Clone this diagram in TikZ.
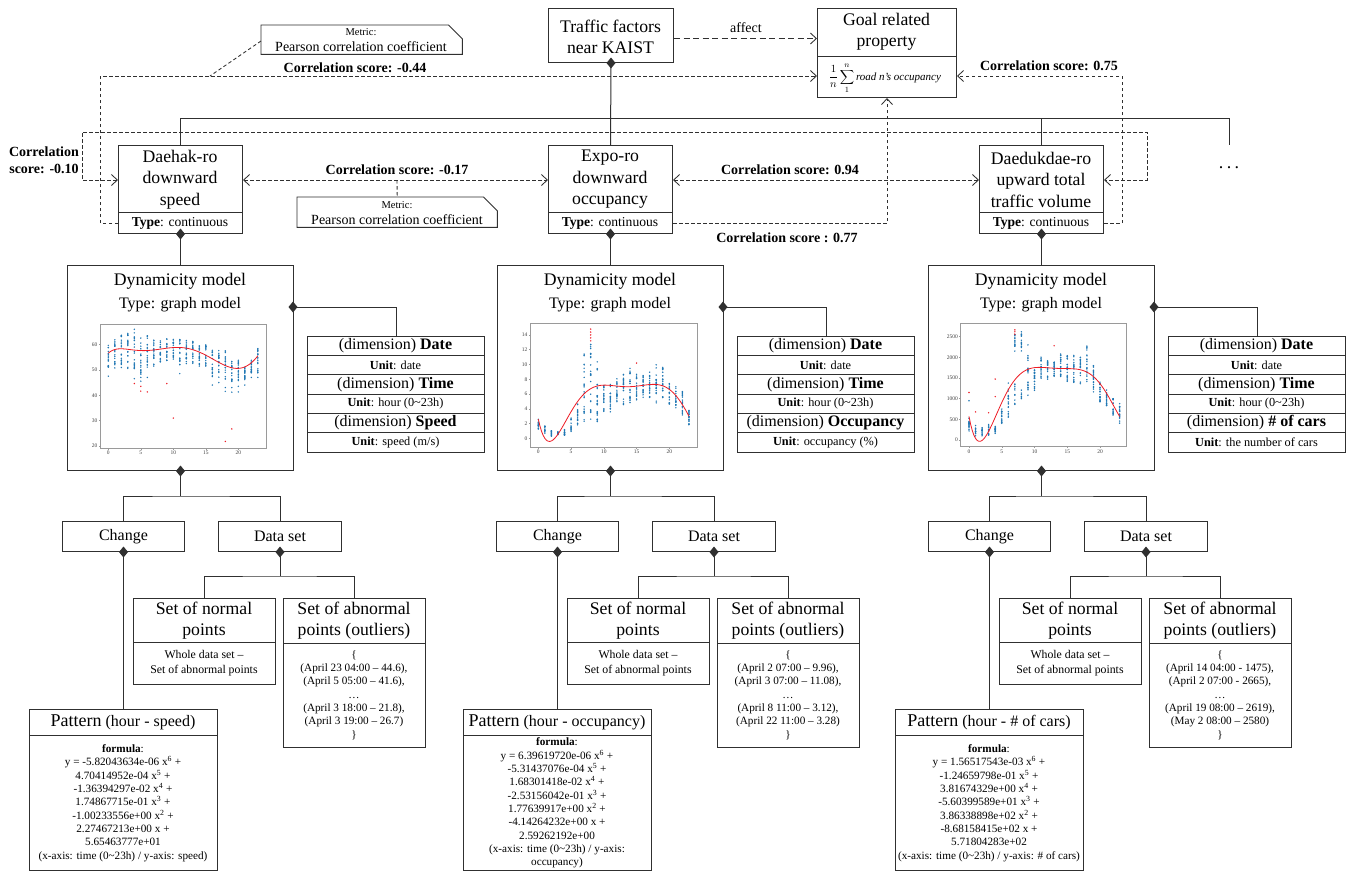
\documentclass[tikz,border=0pt]{standalone}
\usepackage{fontspec}
\setmainfont{Liberation Serif}
\usetikzlibrary{arrows.meta,calc}
\definecolor{ln}{HTML}{303030}
\definecolor{blu}{HTML}{1F77B4}
\definecolor{rd}{HTML}{EE1C25}
\definecolor{frmc}{HTML}{9A9A9A}
\newcommand\fsz[2]{\fontsize{#1}{#2}\selectfont}
\tikzset{
  box/.style={draw=ln, line width=1.0pt, fill=white, inner sep=0pt, anchor=north west},
  conn/.style={draw=ln, line width=1.0pt},
  dsh/.style={draw=ln, line width=0.85pt, dash pattern=on 3.5pt off 2.5pt},
  dshl/.style={draw=ln, line width=0.85pt, dash pattern=on 6pt off 3.5pt},
  tip/.style={-{Straight Barb[length=6pt,width=11pt,line width=0.85pt]}},
  dtip/.style={{Straight Barb[length=6pt,width=11pt,line width=0.85pt]}-{Straight Barb[length=6pt,width=11pt,line width=0.85pt]}},
  tA/.style={font=\fsz{17.7}{21.5}, align=center, inner sep=0pt},
  tB/.style={font=\fsz{16}{19}, align=center, inner sep=0pt},
  tS/.style={font=\bfseries\fsz{14}{16.5}, align=center, inner sep=0pt},
  tT/.style={font=\fsz{13.6}{16}, align=center, inner sep=0pt},
  tU/.style={font=\fsz{12.3}{15}, align=center, inner sep=0pt},
  tF/.style={font=\fsz{11.2}{13.33}, align=center, inner sep=0pt},
  tick/.style={font=\fsz{5.5}{6}, text=black!75, inner sep=0.5pt},
  frm/.style={draw=frmc, line width=0.5pt},
  crv/.style={draw=rd, line width=0.8pt, line join=round},
  pics/dmd/.style={code={\fill[ln] (0,-5.5) -- (4.5,0) -- (0,5.5) -- (-4.5,0) -- cycle;}},
}
% one column of the model: #1 id, #2 upper x offset, #3 lower x offset
\newcommand\drawcol[3]{%
  \node[box, minimum width=124pt, minimum height=88pt] (f#1) at ({118+#2},145) {};
  \draw[conn] ({118+#2},212) -- ({242+#2},212);
  \node[tA] (f#1t) at ({180+#2},179.5) {\FTitle};
  \node[tT] (f#1y) at ({180+#2},223) {\textbf{Type}: continuous};
  % dynamicity model
  \node[box, minimum width=226pt, minimum height=205pt] (d#1) at ({67+#2},265) {};
  \node[tA] (d#1t) at ({180+#2},281) {Dynamicity model};
  \node[tB] (d#1y) at ({180+#2},305) {Type: graph model};
  \draw[conn] (f#1.south) -- (d#1.north);
  \pic at (f#1.south) {dmd};
  % dimension table
  \node[box, minimum width=177pt, minimum height=116pt] (t#1) at ({307+#2},336) {};
  \foreach \yy in {355.3,374.7,394,413.3,432.7}{\draw[conn] ({307+#2},\yy) -- ({484+#2},\yy);}
  \node[tB] (t#1a) at ({395.5+#2},345.7) {(dimension) \textbf{Date}};
  \node[tU] (t#1b) at ({395.5+#2},365) {\textbf{Unit}: date};
  \node[tB] (t#1c) at ({395.5+#2},384.4) {(dimension) \textbf{Time}};
  \node[tU] (t#1d) at ({395.5+#2},403.7) {\textbf{Unit}: hour (0\textasciitilde 23h)};
  \node[tB] (t#1e) at ({395.5+#2},423) {(dimension) \textbf{\DimThree}};
  \node[tU] (t#1f) at ({395.5+#2},442.4) {\textbf{Unit}: \UnitThree};
  \coordinate (dm#1) at ({293+#2},307);
  \draw[conn] (dm#1) -| (t#1.north);
  \pic at (dm#1) {dmd};
  % change / data set
  \node[box, minimum width=122pt, minimum height=30pt] (c#1) at ({62+#3},521) {};
  \node[tB] (c#1t) at (c#1.center) {Change};
  \node[box, minimum width=123pt, minimum height=30pt] (s#1) at ({218+#3},521) {};
  \node[tB] (s#1t) at (s#1.center) {Data set};
  \coordinate (br#1) at ([yshift=-25pt]d#1.south);
  \draw[conn] (d#1.south) -- (br#1);
  \draw[conn] (c#1.north) |- (br#1) -| (s#1.north);
  \pic at (d#1.south) {dmd};
  % pattern
  \node[box, minimum width=188pt, minimum height=161pt] (p#1) at ({29+#3},709) {};
  \draw[conn] ({29+#3},735.5) -- ({217+#3},735.5);
  \node[tB] (p#1t) at ({123+#3},722.5) {{\fsz{18}{20}Pattern} \PatT};
  \node[tF] (p#1b) at ({123+#3},803) {\PatBody};
  \draw[conn] (c#1.south) -- (p#1.north);
  \pic at (c#1.south) {dmd};
  % normal / abnormal sets
  \node[box, minimum width=142pt, minimum height=86pt] (n#1) at ({133+#3},598) {};
  \draw[conn] ({133+#3},642.5) -- ({275+#3},642.5);
  \node[tA] (n#1t) at ({204+#3},620.5) {Set of normal\\points};
  \node[font=\fsz{11.8}{15}, align=center, inner sep=0pt] (n#1b) at ({204+#3},663.5) {Whole data set –\\Set of abnormal points};
  \node[box, minimum width=142pt, minimum height=149pt] (a#1) at ({283+#3},598) {};
  \draw[conn] ({283+#3},643.5) -- ({425+#3},643.5);
  \node[tA] (a#1t) at ({354+#3},620.5) {Set of abnormal\\points (outliers)};
  \node[tF] (a#1b) at ({354+#3},695) {\AbnBody};
  \coordinate (bs#1) at ([yshift=-24pt]s#1.south);
  \draw[conn] (s#1.south) -- (bs#1);
  \draw[conn] (n#1.north) |- (bs#1) -| (a#1.north);
  \pic at (s#1.south) {dmd};
}
\def\polyA#1{(-5.82043634e-06*(#1)^6 + 4.70414952e-04*(#1)^5 - 1.36394297e-02*(#1)^4 + 1.74867715e-01*(#1)^3 - 1.00233556*(#1)^2 + 2.27467213*(#1) + 56.5463777)}
\def\polyB#1{(6.39619720e-06*(#1)^6 - 5.31437076e-04*(#1)^5 + 1.68301418e-02*(#1)^4 - 2.53156042e-01*(#1)^3 + 1.77639917*(#1)^2 - 4.14264232*(#1) + 2.59262192)}
\def\polyC#1{(1.56517543e-03*(#1)^6 - 1.24659798e-01*(#1)^5 + 3.81674329*(#1)^4 - 56.0399589*(#1)^3 + 386.338898*(#1)^2 - 868.158415*(#1) + 571.804283)}
\begin{document}
\begin{tikzpicture}[x=1pt,y=-1pt]
\useasboundingbox (0,0) rectangle (1353,871);
\fill[white] (0,0) rectangle (1353,871);
\pgfmathsetseed{7}

% ---------- top ----------
\node[box, minimum width=125pt, minimum height=54pt] (tf) at (548,8) {};
\node[tA] (tft) at (610.5,37) {Traffic factors\\near KAIST};
\node[box, minimum width=139pt, minimum height=89pt] (goal) at (817,8) {};
\draw[conn] (817,56) -- (956,56);
\node[tA] (goalt) at (886.5,32) {Goal related\\property};
\node[font=\fsz{11}{13}, inner sep=0pt] (goalf) at (885,78) {$\displaystyle\frac{1}{n}\sum_{1}^{n}$\,\textit{road n's occupancy}};
\draw[dshl, tip] ([yshift=-3pt]tf.east) -- ([yshift=-3pt]tf.east -| goal.west);
\node[font=\fsz{14}{16}, inner sep=0pt] (aff) at (746,28) {affect};

% notes
\node[minimum width=201pt, minimum height=29pt, inner sep=0pt, anchor=north west] (n1) at (261,25) {};
\draw[conn, line width=0.9pt] (n1.north west) -- ([xshift=-14pt]n1.north east) -- ([yshift=-14pt]n1.north east) -- (n1.south east) -- (n1.south west) -- cycle;
\node[font=\fsz{10.5}{12}, inner sep=0pt] (n1a) at (361,32.5) {Metric:};
\node[font=\fsz{14}{16}, inner sep=0pt] (n1b) at (361,46.5) {Pearson correlation coefficient};
\node[minimum width=200pt, minimum height=30pt, inner sep=0pt, anchor=north west] (n2) at (297,197) {};
\draw[conn, line width=0.9pt] (n2.north west) -- ([xshift=-14pt]n2.north east) -- ([yshift=-14pt]n2.north east) -- (n2.south east) -- (n2.south west) -- cycle;
\node[font=\fsz{10.5}{12}, inner sep=0pt] (n2a) at (397,205) {Metric:};
\node[font=\fsz{14}{16}, inner sep=0pt] (n2b) at (397,219.5) {Pearson correlation coefficient};

% columns
\def\FTitle{Daehak-ro\\downward\\speed}
\def\DimThree{Speed}\def\UnitThree{speed (m/s)}
\def\PatT{(hour - speed)}
\def\PatBody{\textbf{formula}:\\y = -5.82043634e-06 x\textsuperscript{6} +\\4.70414952e-04 x\textsuperscript{5} +\\-1.36394297e-02 x\textsuperscript{4} +\\1.74867715e-01 x\textsuperscript{3} +\\-1.00233556e+00 x\textsuperscript{2} +\\2.27467213e+00 x +\\5.65463777e+01\\(x-axis: time (0\textasciitilde 23h) / y-axis: speed)}
\def\AbnBody{\{\\(April 23 04:00 – 44.6),\\(April 5 05:00 – 41.6),\\…\\(April 3 18:00 – 21.8),\\(April 3 19:00 – 26.7)\\\}}
\drawcol{A}{0}{0}

\def\FTitle{Expo-ro\\downward\\occupancy}
\def\DimThree{Occupancy}\def\UnitThree{occupancy (\%)}
\def\PatT{(hour - occupancy)}
\def\PatBody{\textbf{formula}:\\y = 6.39619720e-06 x\textsuperscript{6} +\\-5.31437076e-04 x\textsuperscript{5} +\\1.68301418e-02 x\textsuperscript{4} +\\-2.53156042e-01 x\textsuperscript{3} +\\1.77639917e+00 x\textsuperscript{2} +\\-4.14264232e+00 x +\\2.59262192e+00\\(x-axis: time (0\textasciitilde 23h) / y-axis:\\occupancy)}
\def\AbnBody{\{\\(April 2 07:00 – 9.96),\\(April 3 07:00 – 11.08),\\…\\(April 8 11:00 – 3.12),\\(April 22 11:00 – 3.28)\\\}}
\drawcol{B}{430}{434}

\def\FTitle{Daedukdae-ro\\upward total\\traffic volume}
\def\DimThree{\# of cars}\def\UnitThree{the number of cars}
\def\PatT{(hour - \# of cars)}
\def\PatBody{\textbf{formula}:\\y = 1.56517543e-03 x\textsuperscript{6} +\\-1.24659798e-01 x\textsuperscript{5} +\\3.81674329e+00 x\textsuperscript{4} +\\-5.60399589e+01 x\textsuperscript{3} +\\3.86338898e+02 x\textsuperscript{2} +\\-8.68158415e+02 x +\\5.71804283e+02\\(x-axis: time (0\textasciitilde 23h) / y-axis: \# of cars)}
\def\AbnBody{\{\\(April 14 04:00 - 1475),\\(April 2 07:00 - 2665),\\…\\(April 19 08:00 – 2619),\\(May 2 08:00 – 2580)\\\}}
\drawcol{C}{861}{866}

% solid bus
\coordinate (busR) at (1229,118);
\coordinate (dotsTop) at (1229,145);
\draw[conn] (fA.north) |- (busR) -- (dotsTop);
\draw[conn] (tf.south) -- (fB.north);
\draw[conn] (fC.north) -- (fC.north |- busR);
\pic at (tf.south) {dmd};
\node[font=\fsz{18}{20}, inner sep=0pt] (etc) at (1229,168) {.\hspace{3.5pt}.\hspace{3.5pt}.};

% dashed correlation links
\coordinate (c44) at (210,76);
\draw[dsh, tip] ([yshift=-78pt]fA.north west) -- ++(-18,0) |- ([yshift=-68pt]goal.north west);
\node[tS] (l44) at (355,67.5) {Correlation score: -0.44};
\draw[dsh] ([yshift=-16pt]n1.north west) -- (c44);

\coordinate (q1) at (82,132);
\coordinate (q2) at (1147,132);
\draw[dsh, dtip] ([yshift=-35pt]fA.north west) -| (q1) -- (q2) |- ([yshift=-35pt]fC.north east);
\node[tS] (l10) at (44,160) {Correlation\\score: -0.10};

\coordinate (m17) at (397,180);
\draw[dsh, dtip] ([yshift=-35pt]fA.north east) -- ([yshift=-35pt]fB.north west);
\node[tS] (l17) at (397,169.5) {Correlation score: -0.17};
\draw[dsh] (m17) -- (n2.north);

\draw[dsh, dtip] ([yshift=-35pt]fB.north east) -- ([yshift=-35pt]fC.north west);
\node[tS] (l94) at (790,169.5) {Correlation score: 0.94};

\draw[dsh, tip] ([yshift=-78pt]fB.north east) -| (goal.south);
\node[tS] (l77) at (787,238) {Correlation score : 0.77};

\draw[dsh, tip] ([yshift=-78pt]fC.north east) -- ++(18,0) |- ([yshift=-68pt]goal.north east);
\node[tS] (l75) at (1049,66) {Correlation score: 0.75};

% ---------- plot A (speed) ----------
\draw[frm] (100,324) rectangle (266,448);
\foreach \h in {0,5,10,15,20}{\draw[frm] ({108.3+\h*6.5},448) -- ++(0,1.5) node[tick,below=0.5pt]{\h};}
\foreach \v in {20,30,40,50,60}{\draw[frm] (100,{446-(\v-20)*2.54}) -- ++(-1.5,0) node[tick,left=0.5pt]{\v};}
\foreach \h/\lo/\hi/\n in {0/50/60/18, 1/50/62/19, 2/50/64/20, 3/50.5/65/20, 4/50/66/20, 5/48/63/20, 6/50/65/20, 7/51/63/19, 8/53/62/18, 9/53/62.5/18, 10/54/62/18, 11/52/62/18, 12/52/62/19, 13/52/61.5/19, 14/51/61/19, 15/51/60/19, 16/47/58/19, 17/47/58/19, 18/45/58/19, 19/45/54/18, 20/45/54/18, 21/46/54/18, 22/48/56/18, 23/48/58.5/18}{
  \foreach \k in {1,...,\n}{\pgfmathsetmacro\vv{\lo+rnd*(\hi-\lo)}\fill[blu] ({108.3+\h*6.5},{446-(\vv-20)*2.54}) circle (0.8);}}
\foreach \h/\v in {0/47.5, 4/46.5, 5/45.5, 5/47, 6/47, 11/48.5, 16/44, 17/45, 18/41.5, 18/43, 19/41.2, 19/43, 20/41.3, 20/43.5, 21/44, 22/47, 23/47}{\fill[blu] ({108.3+\h*6.5},{446-(\v-20)*2.54}) circle (0.8);}
\foreach \h/\v in {4/44.6, 5/41.6, 5/43.5, 6/41.3, 9/44.6, 10/31, 18/21.8, 19/26.7}{\fill[rd] ({108.3+\h*6.5},{446-(\v-20)*2.54}) circle (0.8);}
\xdef\crvA{(108.3,\fpeval{round(446-(\polyA{0}-20)*2.54,2)})}
\foreach \i in {1,...,92}{\xdef\crvA{\crvA -- (\fpeval{round(108.3+\i*6.5/4,2)},\fpeval{round(446-(\polyA{\i/4}-20)*2.54,2)})}}
\edef\tmp{\noexpand\draw[crv] \crvA;}\tmp

% ---------- plot B (occupancy) ----------
\draw[frm] (530,323) rectangle (697,447);
\foreach \h in {0,5,10,15,20}{\draw[frm] ({538.3+\h*6.55},447) -- ++(0,1.5) node[tick,below=0.5pt]{\h};}
\foreach \v in {0,2,4,6,8,10,12,14}{\draw[frm] (530,{438.3-\v*7.38}) -- ++(-1.5,0) node[tick,left=0.5pt]{\v};}
\foreach \h/\lo/\hi/\n in {0/1/2.8/14, 1/0.5/1.8/14, 2/0.3/1.1/14, 3/0.5/0.9/10, 4/0.4/1.2/14, 5/0.8/3/14, 6/1.8/5.5/20, 7/2/11.8/24, 8/2.5/12.8/24, 9/2/10.4/24, 10/3.3/7.6/20, 11/3/7.3/20, 12/4.9/8.2/20, 13/4.5/8.7/20, 14/4.8/9.5/20, 15/5.2/8.7/20, 16/5.5/8.5/20, 17/5/9.3/20, 18/4.8/10/20, 19/5.5/9.7/20, 20/4.5/7.5/18, 21/3.8/7.2/18, 22/3/6.5/18, 23/1.8/3.8/18}{
  \foreach \k in {1,...,\n}{\pgfmathsetmacro\vv{\lo+rnd*(\hi-\lo)}\fill[blu] ({538.3+\h*6.55},{438.3-\vv*7.38}) circle (0.8);}}
\foreach \h/\v in {8/13.2, 8/13.6, 8/14, 8/14.4, 8/14.8, 15/10.2}{\fill[rd] ({538.3+\h*6.55},{438.3-\v*7.38}) circle (0.8);}
\xdef\crvB{(538.3,\fpeval{round(438.3-\polyB{0}*7.38,2)})}
\foreach \i in {1,...,92}{\xdef\crvB{\crvB -- (\fpeval{round(538.3+\i*6.55/4,2)},\fpeval{round(438.3-\polyB{\i/4}*7.38,2)})}}
\edef\tmp{\noexpand\draw[crv] \crvB;}\tmp

% ---------- plot C (cars) ----------
\draw[frm] (960.7,323.3) rectangle (1126.7,446.7);
\foreach \h in {0,5,10,15,20}{\draw[frm] ({969+\h*6.55},446.7) -- ++(0,1.5) node[tick,below=0.5pt]{\h};}
\foreach \v in {0,500,1000,1500,2000,2500}{\draw[frm] (960.7,{440-\v*0.04133}) -- ++(-1.5,0) node[tick,left=0.5pt]{\v};}
\foreach \h/\lo/\hi/\n in {0/200/560/14, 1/100/380/14, 2/100/300/14, 3/100/400/14, 4/150/350/14, 5/350/750/16, 6/550/1400/20, 7/750/1400/10, 7/2150/2600/14, 8/900/1300/6, 8/2150/2620/16, 9/1000/2050/20, 10/1200/1700/20, 11/1450/2050/20, 12/1450/1950/20, 13/1500/1950/20, 14/1500/2100/20, 15/1400/2100/20, 16/1350/2100/20, 17/1350/2100/20, 18/1400/2300/20, 19/1150/1800/20, 20/900/1400/20, 21/800/1300/20, 22/600/1000/18, 23/380/880/18}{
  \foreach \k in {1,...,\n}{\pgfmathsetmacro\vv{\lo+rnd*(\hi-\lo)}\fill[blu] ({969+\h*6.55},{440-\vv*0.04133}) circle (0.8);}}
\foreach \h/\v in {0/950, 9/2300, 3/220}{\fill[blu] ({969+\h*6.55},{440-\v*0.04133}) circle (0.8);}
\foreach \h/\v in {0/1150, 1/680, 3/660, 4/1050, 4/1475, 7/2665, 7/2620, 7/2560, 13/2280}{\fill[rd] ({969+\h*6.55},{440-\v*0.04133}) circle (0.8);}
\xdef\crvC{(969,\fpeval{round(440-\polyC{0}*0.04133,2)})}
\foreach \i in {1,...,92}{\xdef\crvC{\crvC -- (\fpeval{round(969+\i*6.55/4,2)},\fpeval{round(440-\polyC{\i/4}*0.04133,2)})}}
\edef\tmp{\noexpand\draw[crv] \crvC;}\tmp
\end{tikzpicture}
\end{document}
